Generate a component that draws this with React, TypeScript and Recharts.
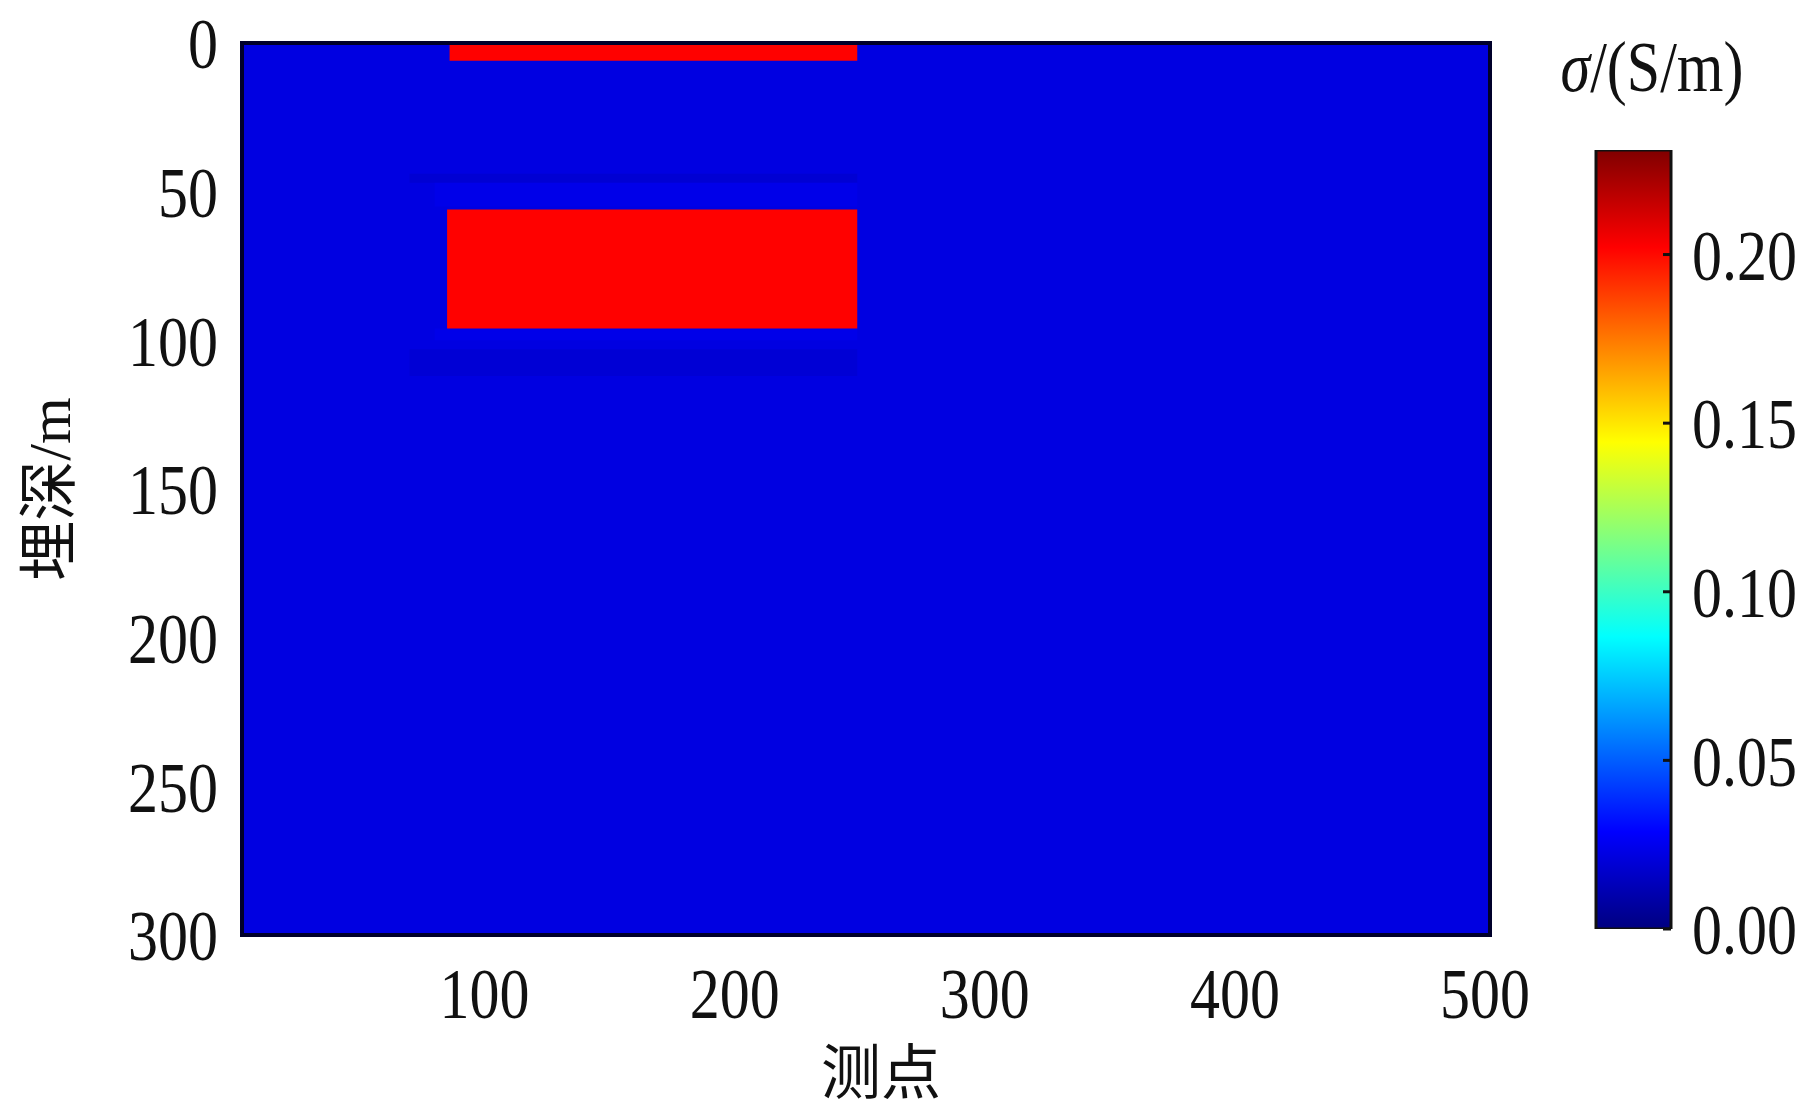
import { ComposedChart, BarChart, Bar, XAxis, YAxis, ReferenceArea, Label } from "recharts";

// axes
const xTicks = [100, 200, 300, 400, 500];
const yTicks = [0, 50, 100, 150, 200, 250, 300];
const xDomain = [3, 502];
const yDomain = [0, 300];

// model: background conductivity and two anomalous blocks (S/m)
const backgroundSigma = 0.022;
const blockX1 = [86, 85];
const blockX2 = [249, 249];
const blockTop = [0, 56];
const blockBottom = [6, 96];
const blockSigma = [0.202, 0.202];

// faint ringing bands around the lower block
const haloX1 = [70, 80, 80, 70];
const haloX2 = [249, 249, 249, 249];
const haloTop = [44, 47, 96, 103];
const haloBottom = [47, 55, 100, 112];
const haloSigma = [0.012, 0.028, 0.028, 0.013];

// colour bar
const colorMax = 0.231;
const colorTicks = [0, 0.05, 0.1, 0.15, 0.2];
const colorbarData = [{ name: "sigma", max: colorMax }];

const serif = '"Liberation Serif", "Times New Roman", "Noto Sans CJK SC", serif';
const stretch = 1.2;

function jet(v: number) {
  const t = Math.max(0, Math.min(1, v / colorMax));
  const c = (x: number) => Math.round(255 * Math.max(0, Math.min(1, 1.5 - Math.abs(x))));
  return `rgb(${c(4 * t - 3)},${c(4 * t - 2)},${c(4 * t - 1)})`;
}

const jetStops = [0, 0.125, 0.25, 0.375, 0.5, 0.625, 0.75, 0.875, 1];

const XTick = (props: any) => {
  const { x, y, payload } = props;
  return (
    <g transform={`translate(${x} ${y}) scale(1 ${stretch})`}>
      <text x={0} y={0} dy="0.7em" textAnchor="middle" fontSize={60} fontFamily={serif} fill="#111">
        {payload.value}
      </text>
    </g>
  );
};

const YTick = (props: any) => {
  const { x, y, payload } = props;
  return (
    <g transform={`translate(${x} ${y}) scale(1 ${stretch})`}>
      <text x={0} y={0} dy="0.35em" textAnchor="end" fontSize={60} fontFamily={serif} fill="#111">
        {payload.value}
      </text>
    </g>
  );
};

const ColorTick = (props: any) => {
  const { x, y, payload } = props;
  return (
    <g>
      <line x1={x - 21} x2={x - 29} y1={y} y2={y} stroke="#111" strokeWidth={3} />
      <g transform={`translate(${x} ${y}) scale(1 ${stretch})`}>
        <text x={0} y={0} dy="0.35em" textAnchor="start" fontSize={60} fontFamily={serif} fill="#111">
          {Number(payload.value).toFixed(2)}
        </text>
      </g>
    </g>
  );
};

const YTitle = (props: any) => {
  const { viewBox } = props;
  const cx = 50;
  const cy = viewBox.y + viewBox.height / 2;
  return (
    <text
      x={cx}
      y={cy}
      transform={`rotate(-90 ${cx} ${cy})`}
      textAnchor="middle"
      dominantBaseline="central"
      fontSize={60}
      fontFamily={serif}
      fill="#111"
    >
      埋深/m
    </text>
  );
};

const XTitle = (props: any) => {
  const { viewBox } = props;
  const cx = viewBox.x + viewBox.width / 2 + 15;
  return (
    <text x={cx} y={1074} textAnchor="middle" dominantBaseline="central" fontSize={60} fontFamily={serif} fill="#111">
      测点
    </text>
  );
};

export default function App() {
  return (
    <div style={{ position: "absolute", left: 0, top: 0, width: 1806, height: 1119, background: "#fff" }}>
      <div style={{ position: "absolute", left: 0, top: 0 }}>
        <ComposedChart width={1806} height={1119} margin={{ top: 43, right: 316, bottom: 54, left: 0 }}>
          <XAxis
            type="number"
            dataKey="x"
            domain={xDomain}
            ticks={xTicks}
            allowDataOverflow
            height={130}
            axisLine={false}
            tickLine={false}
            tickSize={0}
            tickMargin={33}
            tick={<XTick />}
          >
            <Label content={<XTitle />} />
          </XAxis>
          <YAxis
            type="number"
            dataKey="y"
            domain={yDomain}
            ticks={yTicks}
            reversed
            allowDataOverflow
            width={242}
            axisLine={false}
            tickLine={false}
            tickSize={0}
            tickMargin={24}
            tick={<YTick />}
          >
            <Label content={<YTitle />} />
          </YAxis>
          <ReferenceArea
            x1={xDomain[0]}
            x2={xDomain[1]}
            y1={yDomain[0]}
            y2={yDomain[1]}
            fill={jet(backgroundSigma)}
            fillOpacity={1}
            stroke="none"
          />
          {haloSigma.map((s, i) => (
            <ReferenceArea
              key={`halo-${i}`}
              x1={haloX1[i]}
              x2={haloX2[i]}
              y1={haloTop[i]}
              y2={haloBottom[i]}
              fill={jet(s)}
              fillOpacity={0.3}
              stroke="none"
            />
          ))}
          {blockSigma.map((s, i) => (
            <ReferenceArea
              key={`block-${i}`}
              x1={blockX1[i]}
              x2={blockX2[i]}
              y1={blockTop[i]}
              y2={blockBottom[i]}
              fill={jet(s)}
              fillOpacity={1}
              stroke="none"
            />
          ))}
          <ReferenceArea
            x1={xDomain[0]}
            x2={xDomain[1]}
            y1={yDomain[0]}
            y2={yDomain[1]}
            fill="none"
            stroke="#00002a"
            strokeWidth={4}
          />
        </ComposedChart>
      </div>

      <div
        style={{
          position: "absolute",
          left: 1547,
          top: 28,
          width: 210,
          textAlign: "center",
          fontFamily: serif,
          fontSize: 60,
          lineHeight: "78px",
          color: "#111",
          whiteSpace: "nowrap",
          transform: `scaleY(${stretch})`,
        }}
      >
        <span style={{ fontStyle: "italic" }}>σ</span>/(S/m)
      </div>

      <div style={{ position: "absolute", left: 1540, top: 100 }}>
        <BarChart
          width={266}
          height={880}
          data={colorbarData}
          barCategoryGap={0}
          margin={{ top: 50, right: 5, bottom: 51, left: 56 }}
        >
          <defs>
            <linearGradient id="jet" x1="0" y1="1" x2="0" y2="0">
              {jetStops.map((t) => (
                <stop key={t} offset={`${t * 100}%`} stopColor={jet(t * colorMax)} />
              ))}
            </linearGradient>
          </defs>
          <XAxis dataKey="name" hide />
          <YAxis
            orientation="right"
            domain={[0, colorMax]}
            ticks={colorTicks}
            allowDataOverflow
            width={130}
            axisLine={false}
            tickLine={false}
            tickSize={0}
            tickMargin={21}
            tick={<ColorTick />}
          />
          <Bar dataKey="max" fill="url(#jet)" stroke="#111" strokeWidth={3} isAnimationActive={false} />
        </BarChart>
      </div>
    </div>
  );
}
